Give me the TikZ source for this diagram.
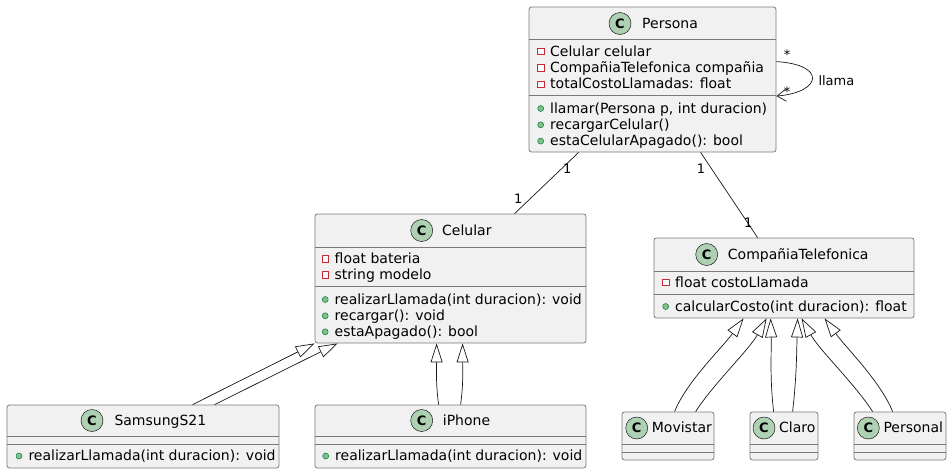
\documentclass[tikz,border=0pt]{standalone}
\usepackage{fontspec}
\setmainfont{DejaVu Sans}
\usetikzlibrary{arrows.meta,fit}
\definecolor{boxfill}{HTML}{F1F1F1}
\definecolor{boxline}{HTML}{181818}
\definecolor{boxedge}{HTML}{7A7A7A}
\definecolor{circfill}{HTML}{ADD1B2}
\definecolor{privred}{HTML}{C82930}
\definecolor{pubfill}{HTML}{84BE84}
\definecolor{publine}{HTML}{038048}
\newcommand\pmember[4]{%
  \node[privicon] (#1-i) at (#2-9.3,#3-4.5) {};
  \node[member] (#1) at (#2,#3) {#4};}
\newcommand\umember[4]{%
  \node[pubicon] (#1-i) at (#2-9.3,#3-4.5) {};
  \node[member] (#1) at (#2,#3) {#4};}
\newcommand\umlhead[5]{% name, circle x, circle y, text x, title
  \node[circ] (#1-c) at (#2,#3) {C};
  \node[titletext] (#1-t) at (#4,#3+4.7) {#5};}
\begin{document}
\begin{tikzpicture}[x=1pt,y=-1pt,
  classbox/.style={draw=boxedge, line width=0.8pt, fill=boxfill, rounded corners=2.5pt, inner sep=0pt},
  sepline/.style={draw=boxedge, line width=0.8pt},
  circ/.style={circle, draw=boxline, line width=0.5pt, fill=circfill, minimum size=22pt, inner sep=0pt,
    font=\fontsize{13}{13}\selectfont\bfseries},
  titletext/.style={anchor=base west, inner sep=0pt, font=\fontsize{14}{16}\selectfont},
  member/.style={anchor=base west, inner sep=0pt, font=\fontsize{14}{16}\selectfont},
  privicon/.style={rectangle, draw=privred, line width=0.6pt, fill=white, minimum size=6.5pt, inner sep=0pt},
  pubicon/.style={circle, draw=publine, line width=0.5pt, fill=pubfill, minimum size=6pt, inner sep=0pt},
  assoc/.style={draw=boxline, line width=0.7pt},
  gen/.style={draw=boxline, line width=0.7pt, -{Triangle[length=19pt,width=12pt,fill=white,line width=0.7pt]}},
  loopedge/.style={draw=boxline, line width=0.7pt, -{Straight Barb[length=9pt,width=12pt,line width=0.7pt]}},
  mult/.style={anchor=base, inner sep=0pt, font=\fontsize{13}{13}\selectfont},
]
\useasboundingbox[fill=white] (0,0) rectangle (952,474);

% ---------- Persona ----------
\node[classbox, fit={(529,7) (776,152)}] (persona) {};
\draw[sepline] (persona.west |- 0,39) -- (persona.east |- 0,39);
\draw[sepline] (persona.west |- 0,95) -- (persona.east |- 0,95);
\umlhead{persona}{620}{23.5}{642}{Persona}
\pmember{pa1}{550}{56}{Celular celular}
\pmember{pa2}{550}{72.3}{CompañiaTelefonica compañia}
\pmember{pa3}{550}{88.6}{totalCostoLlamadas: float}
\umember{pm1}{550}{113}{llamar(Persona p, int duracion)}
\umember{pm2}{550}{129.3}{recargarCelular()}
\umember{pm3}{550}{145.6}{estaCelularApagado(): bool}

% ---------- Celular ----------
\node[classbox, fit={(315,214) (586,343)}] (celular) {};
\draw[sepline] (celular.west |- 0,247) -- (celular.east |- 0,247);
\draw[sepline] (celular.west |- 0,286) -- (celular.east |- 0,286);
\umlhead{celular}{421.7}{230.5}{442}{Celular}
\pmember{ca1}{334.5}{263.5}{float bateria}
\pmember{ca2}{334.5}{279.5}{string modelo}
\umember{cm1}{334.5}{304}{realizarLlamada(int duracion): void}
\umember{cm2}{334.5}{320.3}{recargar(): void}
\umember{cm3}{334.5}{336.3}{estaApagado(): bool}

% ---------- CompañiaTelefonica ----------
\node[classbox, fit={(654,238) (914,318)}] (compania) {};
\draw[sepline] (compania.west |- 0,271) -- (compania.east |- 0,271);
\draw[sepline] (compania.west |- 0,294) -- (compania.east |- 0,294);
\umlhead{compania}{706.7}{254.5}{727.7}{CompañiaTelefonica}
\pmember{ta1}{675}{287}{float costoLlamada}
\umember{tm1}{675}{311}{calcularCosto(int duracion): float}

% ---------- SamsungS21 ----------
\node[classbox, fit={(7,405) (279,468)}] (samsung) {};
\draw[sepline] (samsung.west |- 0,436) -- (samsung.east |- 0,436);
\draw[sepline] (samsung.west |- 0,444) -- (samsung.east |- 0,444);
\umlhead{samsung}{92}{420.5}{114.3}{SamsungS21}
\umember{sm1}{28.3}{460.5}{realizarLlamada(int duracion): void}

% ---------- iPhone ----------
\node[classbox, fit={(315,405) (586,468)}] (iphone) {};
\draw[sepline] (iphone.west |- 0,436) -- (iphone.east |- 0,436);
\draw[sepline] (iphone.west |- 0,444) -- (iphone.east |- 0,444);
\umlhead{iphone}{421.7}{420.5}{442.7}{iPhone}
\umember{im1}{335}{460.5}{realizarLlamada(int duracion): void}

% ---------- Movistar, Claro, Personal ----------
\node[classbox, fit={(622,412) (714,460)}] (movistar) {};
\draw[sepline] (movistar.west |- 0,444) -- (movistar.east |- 0,444);
\draw[sepline] (movistar.west |- 0,452) -- (movistar.east |- 0,452);
\umlhead{movistar}{636.7}{428}{651.7}{Movistar}

\node[classbox, fit={(750,412) (818,460)}] (claro) {};
\draw[sepline] (claro.west |- 0,444) -- (claro.east |- 0,444);
\draw[sepline] (claro.west |- 0,452) -- (claro.east |- 0,452);
\umlhead{claro}{764}{428}{779}{Claro}

\node[classbox, fit={(854,412) (946,460)}] (personal) {};
\draw[sepline] (personal.west |- 0,444) -- (personal.east |- 0,444);
\draw[sepline] (personal.west |- 0,452) -- (personal.east |- 0,452);
\umlhead{personal}{868.3}{428}{883.3}{Personal}

% ---------- Associations ----------
\draw[assoc] ([xshift=50pt]persona.south west) -- ([xshift=200pt]celular.north west);
\node[mult] (m1) at (567.3,173.3) {1};
\node[mult] (m2) at (518.3,203.3) {1};
\draw[assoc] ([xshift=172pt]persona.south west) -- ([xshift=104pt]compania.north west);
\node[mult] (m3) at (701,173.3) {1};
\node[mult] (m4) at (748.3,227.3) {1};

\draw[loopedge] ([yshift=-55pt]persona.north east) .. controls +(50,3) and +(46,-4) .. ([yshift=-89.5pt]persona.north east);
\node[mult] (m5) at (787,59.5) {*};
\node[mult] (m6) at (787,96.5) {*};
\node[mult, anchor=base west] (llama) at (818.3,85) {llama};

% ---------- Generalizations ----------
\draw[gen] ([xshift=186pt]samsung.north west) -- (celular.south west);
\draw[gen] ([xshift=208pt]samsung.north west) -- ([xshift=23pt]celular.south west);

\draw[gen] ([xshift=124pt]iphone.north west) .. controls +(-3,-22) and +(0,24) .. ([xshift=122pt]celular.south west);
\draw[gen] ([xshift=146pt]iphone.north west) .. controls +(3,-22) and +(0,24) .. ([xshift=148pt]celular.south west);

\draw[gen] ([xshift=53pt]movistar.north west) .. controls +(12,-30) and +(-22,30) .. ([xshift=90pt]compania.south west);
\draw[gen] ([xshift=74pt]movistar.north west) .. controls +(18,-28) and +(-18,32) .. ([xshift=113pt]compania.south west);

\draw[gen] ([xshift=24pt]claro.north west) .. controls +(-4,-35) and +(1,35) .. ([xshift=117pt]compania.south west);
\draw[gen] ([xshift=43pt]claro.north west) .. controls +(4,-35) and +(-1,35) .. ([xshift=144pt]compania.south west);

\draw[gen] ([xshift=19pt]personal.north west) .. controls +(-18,-28) and +(18,32) .. ([xshift=148pt]compania.south west);
\draw[gen] ([xshift=39pt]personal.north west) .. controls +(-12,-30) and +(22,30) .. ([xshift=171pt]compania.south west);
\end{tikzpicture}
\end{document}
